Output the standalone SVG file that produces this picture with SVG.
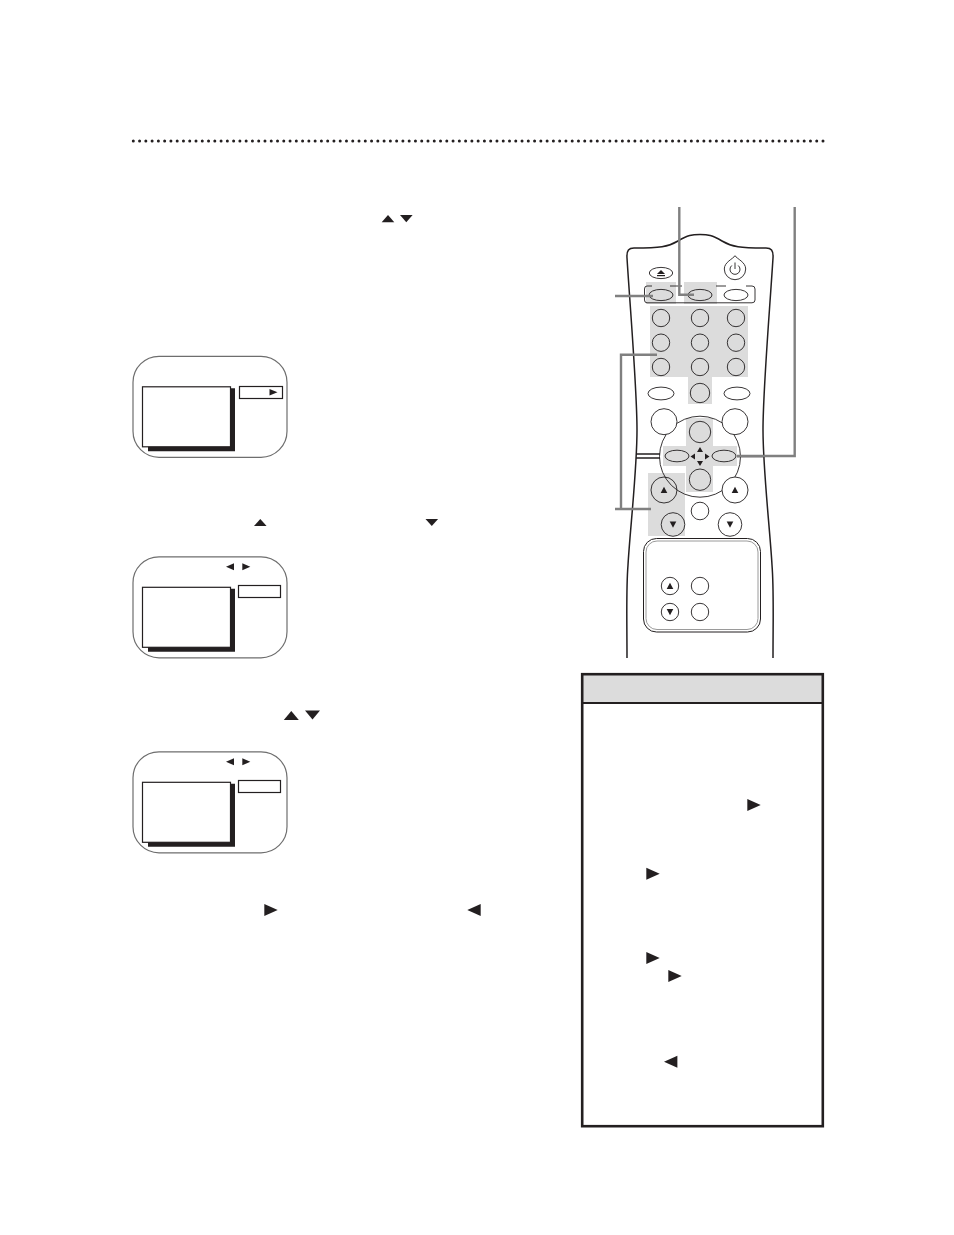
<svg xmlns="http://www.w3.org/2000/svg" width="954" height="1235" viewBox="0 0 954 1235">
<style>
.shade{fill:#dcdcdc;stroke:none}
.btn{fill:none;stroke:#231f20;stroke-width:.9}
.wbtn{fill:#fff;stroke:#231f20;stroke-width:.9}
.body{fill:none;stroke:#231f20;stroke-width:1.5}
.conn{fill:none;stroke:#808080;stroke-width:2.4}
.tri{fill:#231f20;stroke:none}
.scr{fill:#fff;stroke:#6e6e6e;stroke-width:1.2}
.menu{fill:#fff;stroke:#231f20;stroke-width:1.2}
.sh{fill:#231f20;stroke:none}
</style>
<defs>
<path id="up" class="tri" d="M0-3.6L6.3 3.6H-6.3Z"/>
<path id="dn" class="tri" d="M0 3.6L6.3-3.6H-6.3Z"/>
<path id="upl" class="tri" d="M0-4.500L7.500 4.500H-7.500Z"/>
<path id="dnl" class="tri" d="M0 4.500L7.500-4.500H-7.500Z"/>
<path id="rt" class="tri" d="M-6.700-6L6.700 0L-6.700 6Z"/>
<path id="lf" class="tri" d="M6.700-6L-6.700 0L6.700 6Z"/>
<path id="u2" class="tri" d="M0-3.200L3.300 3H-3.300Z"/>
<path id="d2" class="tri" d="M0 3.200L3.300-3H-3.300Z"/>
<g id="screen">
<rect class="scr" x="133" y="0" width="154" height="101" rx="26" ry="26"/>
<path class="sh" d="M148 32H235V95H148Z"/>
<rect class="menu" x="142.500" y="30.500" width="88" height="60"/>
</g>
</defs>
<rect width="954" height="1235" fill="#fff"/>

<g id="rule"><line x1="133.300" y1="141" x2="823.200" y2="141" stroke="#231f20" stroke-width="3" stroke-linecap="round" stroke-dasharray="0 6.270"/></g>

<g id="text-arrows">
<use href="#up" x="388" y="218.700"/><use href="#dn" x="406.300" y="218.700"/>
<use href="#up" x="260.300" y="522.500"/><use href="#dn" x="431.800" y="522.500"/>
<use href="#upl" x="291.300" y="715.500"/><use href="#dnl" x="312.500" y="715"/>
<use href="#rt" x="271" y="910"/>
<use href="#lf" x="474" y="910"/>
</g>

<g id="screen-1">
<use href="#screen" y="356.300"/>
<rect class="menu" x="239.500" y="386.500" width="43" height="12"/>
<path class="tri" d="M269.500 389L277.500 392.300L269.500 395.500Z"/>
</g>
<g id="screen-2">
<use href="#screen" y="556.800"/>
<rect class="menu" x="238.500" y="585.500" width="42" height="12"/>
<path class="tri" d="M234 563.300V570.300L226 566.800Z"/><path class="tri" d="M242.300 563.300V570.300L250.300 566.800Z"/>
</g>
<g id="screen-3">
<use href="#screen" y="751.800"/>
<rect class="menu" x="238.500" y="780.500" width="42" height="12"/>
<path class="tri" d="M234 758.300V765.300L226 761.800Z"/><path class="tri" d="M242.300 758.300V765.300L250.300 761.800Z"/>
</g>

<g id="tips-box">
<rect x="582.200" y="674.200" width="240.600" height="28" fill="#dcdcdc"/>
<rect x="582.200" y="674.200" width="240.600" height="452" fill="none" stroke="#231f20" stroke-width="2.600"/>
<line x1="582" y1="703" x2="823" y2="703" stroke="#231f20" stroke-width="2.200"/>
<use href="#rt" x="754" y="805"/>
<use href="#rt" x="653" y="873.700"/>
<use href="#rt" x="653" y="958"/>
<use href="#rt" x="675" y="976"/>
<use href="#lf" x="670.700" y="1061.700"/>
</g>

<g id="remote">
<g id="shading">
<rect class="shade" x="646" y="282" width="30" height="22"/>
<rect class="shade" x="684" y="282" width="33" height="22"/>
<rect class="shade" x="650" y="306" width="98" height="71"/>
<rect class="shade" x="688" y="377" width="24" height="27"/>
<rect class="shade" x="686" y="418" width="27" height="74"/>
<rect class="shade" x="663" y="446" width="74" height="20"/>
<rect class="shade" x="648" y="473" width="37" height="63"/>
</g>
<path id="remote-body" class="body" d="M627 658C627 620 626 590 628 565C630 530 637 470 637 430C637 390 631 320 627 258C626.500 250 629 248 634 248C660 248 668 247 678 241C688 235 692 234.500 700 234.500C708 234.500 712 235 722 241C732 247 740 248 766 248C771 248 773.500 250 773 258C769 320 763 390 763 430C763 470 770 530 772 565C774 590 773 620 773 658"/>
<path class="body" d="M636 454H660M636 458H660" stroke-width="1.100"/>
<path class="body" d="M737 456.500H765"/>
<path class="btn" d="M652 286H647Q644.500 286 644.500 289V300Q644.500 302.800 647 302.800H752Q755 302.800 755 300V289Q755 286 752 286H746M670 286H682M716 286H726" stroke-width="1.100"/>
<ellipse id="eject" class="btn" cx="661" cy="273" rx="11.700" ry="5.600"/>
<path class="tri" d="M661 270L665 274H657Z"/><rect class="tri" x="657" y="275" width="8" height="1.200"/>
<path id="power" class="btn" d="M735 255.700C737 259 745.700 262 745.700 269A10.700 10.700 0 0 1 724.300 269C724.300 262 733 259 735 255.700Z" stroke-width="1.100"/>
<path class="btn" d="M731.800 265.500A5 5 0 1 0 738.200 265.500M735 262.500V269" stroke-width="1.400"/>
<g id="buttons">
<ellipse class="btn" cx="661" cy="295" rx="12" ry="5.600"/><ellipse class="btn" cx="700" cy="295" rx="12" ry="5.600"/><ellipse class="btn" cx="736" cy="295" rx="12" ry="5.600"/>
<circle class="btn" cx="661" cy="318" r="8.700"/><circle class="btn" cx="700" cy="318" r="8.700"/><circle class="btn" cx="736" cy="318" r="8.700"/>
<circle class="btn" cx="661" cy="342.700" r="8.700"/><circle class="btn" cx="700" cy="342.700" r="8.700"/><circle class="btn" cx="736" cy="342.700" r="8.700"/>
<circle class="btn" cx="661" cy="367" r="8.700"/><circle class="btn" cx="700" cy="367" r="8.700"/><circle class="btn" cx="736" cy="367" r="8.700"/>
<ellipse class="btn" cx="661" cy="393.500" rx="13" ry="6.400"/><circle class="btn" cx="700" cy="393" r="9.700"/><ellipse class="btn" cx="737" cy="393.500" rx="13" ry="6.400"/>
<circle class="btn" cx="700" cy="456.700" r="40.500"/>
<circle class="wbtn" cx="664" cy="421.700" r="13"/><circle class="wbtn" cx="735" cy="421.700" r="13"/>
<circle class="btn" cx="700" cy="432" r="10.700"/><circle class="btn" cx="700" cy="479.700" r="10.700"/>
<ellipse class="btn" cx="677" cy="456" rx="12" ry="5.800"/><ellipse class="btn" cx="724" cy="456" rx="12" ry="5.800"/>
<path class="tri" d="M700 447L703 452H697ZM700 466L703 461H697ZM690.500 456.500L695 453.500V459.500ZM709.500 456.500L705 453.500V459.500Z"/>
<circle class="btn" cx="664" cy="490" r="13"/><use href="#u2" x="664" y="490"/>
<circle class="wbtn" cx="735" cy="490" r="13"/><use href="#u2" x="735" y="490"/>
<circle class="btn" cx="673" cy="524.500" r="11.800"/><use href="#d2" x="673" y="524.500"/>
<circle class="btn" cx="730" cy="524.500" r="11.800"/><use href="#d2" x="730" y="524.500"/>
<circle class="btn" cx="700" cy="511" r="8.800"/>
</g>
<g id="panel">
<rect x="643.500" y="538.500" width="117" height="93.500" rx="13" fill="none" stroke="#231f20" stroke-width="1"/>
<rect x="646" y="541" width="112" height="88.500" rx="11" fill="none" stroke="#9a9a9a" stroke-width="1"/>
<circle class="btn" cx="670" cy="586" r="8.700"/><use href="#u2" x="670" y="586"/>
<circle class="btn" cx="700" cy="586" r="8.700"/>
<circle class="btn" cx="670" cy="612" r="8.700"/><use href="#d2" x="670" y="612"/>
<circle class="btn" cx="700" cy="612" r="8.700"/>
</g>
</g>

<g id="connectors">
<path class="conn" d="M679.300 207V294.700H694"/>
<path class="conn" d="M794.700 207V456H737"/>
<path class="conn" d="M615 296H653"/>
<path class="conn" d="M657 354.700H621V509M615 509H651"/>
</g>
</svg>
